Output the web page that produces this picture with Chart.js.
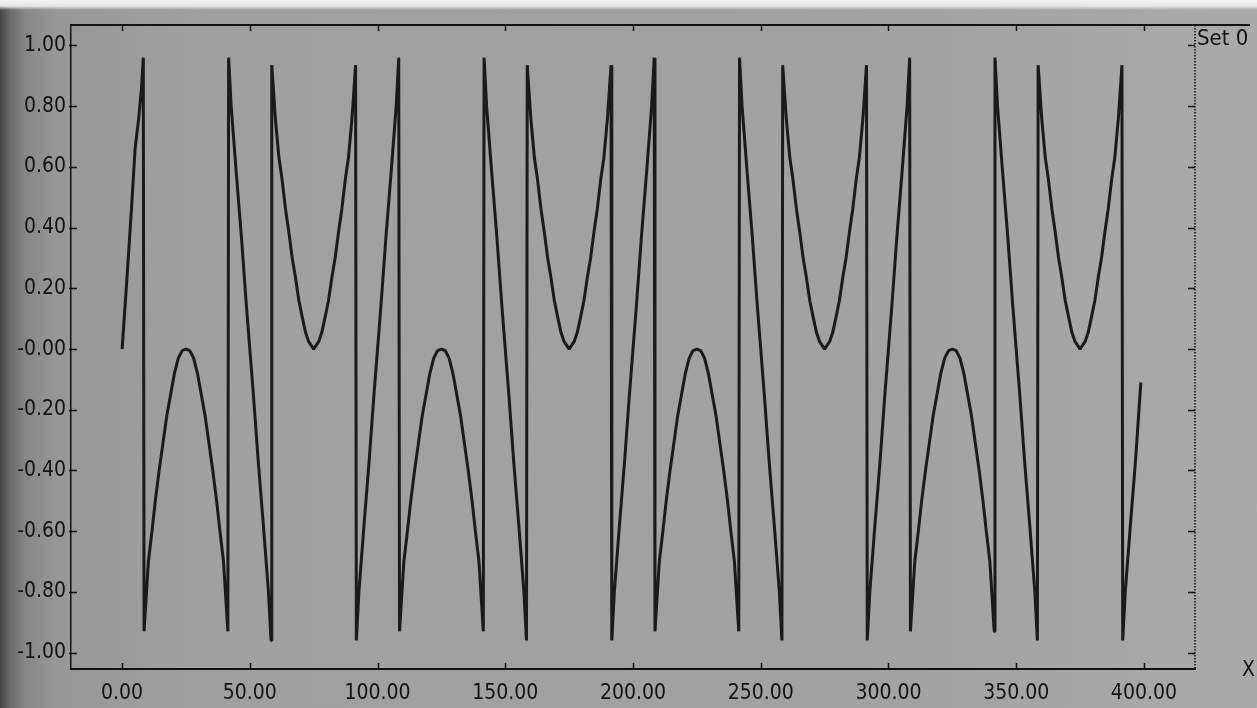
<!DOCTYPE html>
<html>
<head>
<meta charset="utf-8">
<script src="https://cdn.jsdelivr.net/npm/chart.js@4.4.1/dist/chart.umd.min.js"></script>
<style>
  html, body { margin: 0; padding: 0; background: #ffffff; }
  #wrap {
    position: absolute; left: 0; top: 0; width: 1257px; height: 708px;
    background:
      linear-gradient(to bottom, #f2f2f2 0px, #e6e6e6 6px, rgba(160,160,160,0) 10px),
      linear-gradient(to right, #444 0px, #6a6a6a 10px, #868686 25px, #979797 55px, #a0a0a0 200px, #a2a2a2 900px, #aaaaaa 1257px);
  }
  canvas { position: absolute; left: 0; top: 0; }
</style>
</head>
<body>
<div id="wrap"><canvas id="c" width="1257" height="708"></canvas></div>
<script>
// ---- Data (x, y pairs, grouped by stretch of the curve) ----
const xCycle1 = [0,1.4,2.5,3.8,5.1,6.5,7.6,8.3,
  8.6,10.3,11.7,13,14.5,16,17.5,19,20.5,22,23.5,25,26.5,28,29.5,31,32.5,34,35.5,37,38.3,39.7,41.4,
  41.7,42.7,44.7,46.7,48.6,50,51.4,53.3,55.3,57.3,58.3,
  58.6,60,61.4,62.6,64,65.2,66.6,67.8,69.2,70.4,71.8,73,75,77,78.2,79.6,80.8,82.2,83.4,84.8,86,87.4,88.6,90,91.4];
const yCycle1 = [0,0.17,0.31,0.48,0.66,0.76,0.86,0.96,
  -0.93,-0.70,-0.60,-0.50,-0.40,-0.31,-0.22,-0.15,-0.08,-0.03,-0.005,0,-0.005,-0.03,-0.08,-0.15,-0.22,-0.31,-0.40,-0.50,-0.60,-0.70,-0.93,
  0.96,0.80,0.58,0.37,0.15,0,-0.15,-0.37,-0.58,-0.80,-0.96,
  0.935,0.76,0.63,0.56,0.46,0.39,0.30,0.24,0.16,0.11,0.055,0.025,0,0.025,0.055,0.11,0.16,0.24,0.30,0.39,0.46,0.56,0.63,0.76,0.935];

const xCycle2 = [91.7,92.7,94.7,96.7,98.6,100,101.4,103.3,105.3,107.3,108.3,
  108.6,110.3,111.7,113,114.5,116,117.5,119,120.5,122,123.5,125,126.5,128,129.5,131,132.5,134,135.5,137,138.3,139.7,141.4,
  141.7,142.7,144.7,146.7,148.6,150,151.4,153.3,155.3,157.3,158.3,
  158.6,160,161.4,162.6,164,165.2,166.6,167.8,169.2,170.4,171.8,173,175,177,178.2,179.6,180.8,182.2,183.4,184.8,186,187.4,188.6,190,191.4];
const yCycle2 = [-0.96,-0.80,-0.58,-0.37,-0.15,0,0.15,0.37,0.58,0.80,0.96,
  -0.93,-0.70,-0.60,-0.50,-0.40,-0.31,-0.22,-0.15,-0.08,-0.03,-0.005,0,-0.005,-0.03,-0.08,-0.15,-0.22,-0.31,-0.40,-0.50,-0.60,-0.70,-0.93,
  0.96,0.80,0.58,0.37,0.15,0,-0.15,-0.37,-0.58,-0.80,-0.96,
  0.935,0.76,0.63,0.56,0.46,0.39,0.30,0.24,0.16,0.11,0.055,0.025,0,0.025,0.055,0.11,0.16,0.24,0.30,0.39,0.46,0.56,0.63,0.76,0.935];

const xCycle3 = [191.7,192.7,194.7,196.7,198.6,200,201.4,203.3,205.3,207.3,208.3,
  208.6,210.3,211.7,213,214.5,216,217.5,219,220.5,222,223.5,225,226.5,228,229.5,231,232.5,234,235.5,237,238.3,239.7,241.4,
  241.7,242.7,244.7,246.7,248.6,250,251.4,253.3,255.3,257.3,258.3,
  258.6,260,261.4,262.6,264,265.2,266.6,267.8,269.2,270.4,271.8,273,275,277,278.2,279.6,280.8,282.2,283.4,284.8,286,287.4,288.6,290,291.4];
const yCycle3 = [-0.96,-0.80,-0.58,-0.37,-0.15,0,0.15,0.37,0.58,0.80,0.96,
  -0.93,-0.70,-0.60,-0.50,-0.40,-0.31,-0.22,-0.15,-0.08,-0.03,-0.005,0,-0.005,-0.03,-0.08,-0.15,-0.22,-0.31,-0.40,-0.50,-0.60,-0.70,-0.93,
  0.96,0.80,0.58,0.37,0.15,0,-0.15,-0.37,-0.58,-0.80,-0.96,
  0.935,0.76,0.63,0.56,0.46,0.39,0.30,0.24,0.16,0.11,0.055,0.025,0,0.025,0.055,0.11,0.16,0.24,0.30,0.39,0.46,0.56,0.63,0.76,0.935];

const xCycle4 = [291.7,292.7,294.7,296.7,298.6,300,301.4,303.3,305.3,307.3,308.3,
  308.6,310.3,311.7,313,314.5,316,317.5,319,320.5,322,323.5,325,326.5,328,329.5,331,332.5,334,335.5,337,338.3,339.7,341.4,
  341.7,342.7,344.7,346.7,348.6,350,351.4,353.3,355.3,357.3,358.3,
  358.6,360,361.4,362.6,364,365.2,366.6,367.8,369.2,370.4,371.8,373,375,377,378.2,379.6,380.8,382.2,383.4,384.8,386,387.4,388.6,390,391.4];
const yCycle4 = [-0.96,-0.80,-0.58,-0.37,-0.15,0,0.15,0.37,0.58,0.80,0.96,
  -0.93,-0.70,-0.60,-0.50,-0.40,-0.31,-0.22,-0.15,-0.08,-0.03,-0.005,0,-0.005,-0.03,-0.08,-0.15,-0.22,-0.31,-0.40,-0.50,-0.60,-0.70,-0.93,
  0.96,0.80,0.58,0.37,0.15,0,-0.15,-0.37,-0.58,-0.80,-0.96,
  0.935,0.76,0.63,0.56,0.46,0.39,0.30,0.24,0.16,0.11,0.055,0.025,0,0.025,0.055,0.11,0.16,0.24,0.30,0.39,0.46,0.56,0.63,0.76,0.935];

const xTail = [391.7,392.7,394.7,396.7,398.8];
const yTail = [-0.96,-0.80,-0.58,-0.37,-0.11];

const seriesName = 'Set 0';
const xAxisName = 'X';
const xTickValues = [0,50,100,150,200,250,300,350,400];
const xTickLabels = ['0.00','50.00','100.00','150.00','200.00','250.00','300.00','350.00','400.00'];
const yTickValues = [-1,-0.8,-0.6,-0.4,-0.2,0,0.2,0.4,0.6,0.8,1];
const yTickLabels = ['-1.00','-0.80','-0.60','-0.40','-0.20','-0.00','0.20','0.40','0.60','0.80','1.00'];

// ---- build points ----
const allX = [].concat(xCycle1, xCycle2, xCycle3, xCycle4, xTail);
const allY = [].concat(yCycle1, yCycle2, yCycle3, yCycle4, yTail);
const points = allX.map((x, i) => ({ x: x, y: allY[i] }));

const FONT = '"Liberation Sans Narrow", "Arial Narrow", "DejaVu Sans Condensed", sans-serif';
const INK = '#121212';

const framePlugin = {
  id: 'frame',
  afterDraw(chart) {
    const { ctx, chartArea: a, scales } = chart;
    const sx = scales.x, sy = scales.y;
    ctx.save();
    ctx.strokeStyle = INK;
    // top border line (extends to the right)
    ctx.lineWidth = 2;
    ctx.beginPath(); ctx.moveTo(a.left - 1, a.top); ctx.lineTo(1250, a.top); ctx.stroke();
    // right dotted axis
    ctx.lineWidth = 1.5;
    ctx.setLineDash([1.5, 1.5]);
    ctx.beginPath(); ctx.moveTo(a.right, a.top); ctx.lineTo(a.right, a.bottom); ctx.stroke();
    ctx.setLineDash([]);
    // inward tick marks
    ctx.lineWidth = 1.5;
    ctx.beginPath();
    yTickValues.forEach(v => {
      const py = Math.round(sy.getPixelForValue(v)) + 0.5;
      ctx.moveTo(a.left - 2, py); ctx.lineTo(a.left + 6, py);
      ctx.moveTo(a.right - 7, py); ctx.lineTo(a.right, py);
    });
    xTickValues.forEach(v => {
      const px = Math.round(sx.getPixelForValue(v)) + 0.5;
      ctx.moveTo(px, a.bottom); ctx.lineTo(px, a.bottom - 6);
      ctx.moveTo(px, a.top); ctx.lineTo(px, a.top + 6);
    });
    ctx.stroke();
    // legend / axis name text
    ctx.fillStyle = INK;
    ctx.textAlign = 'left';
    ctx.textBaseline = 'alphabetic';
    ctx.font = '22px ' + FONT;
    ctx.fillText(seriesName, a.right + 2, 45);
    ctx.font = '21px ' + FONT;
    ctx.fillText(xAxisName, 1242, 676);
    ctx.restore();
  }
};

new Chart(document.getElementById('c'), {
  type: 'line',
  data: {
    datasets: [{
      label: seriesName,
      data: points,
      borderColor: '#1a1a1a',
      borderWidth: 3,
      borderJoinStyle: 'bevel',
      pointRadius: 0,
      tension: 0,
      fill: false
    }]
  },
  options: {
    responsive: false,
    animation: false,
    devicePixelRatio: 1,
    layout: { padding: { top: 25, right: 62, left: 0, bottom: 0 } },
    plugins: { legend: { display: false }, tooltip: { enabled: false } },
    scales: {
      x: {
        type: 'linear',
        min: -20, max: 420,
        afterFit: s => { s.height = 39; },
        afterBuildTicks: s => { s.ticks = xTickValues.map(v => ({ value: v })); },
        grid: { display: false, drawTicks: false },
        border: { display: true, color: INK, width: 2 },
        ticks: {
          padding: 12,
          color: INK,
          font: { family: FONT, size: 21 },
          maxRotation: 0,
          autoSkip: false,
          callback: (v) => xTickLabels[xTickValues.indexOf(v)]
        }
      },
      y: {
        type: 'linear',
        min: -1.054, max: 1.0675,
        afterFit: s => { s.width = 71; },
        afterBuildTicks: s => { s.ticks = yTickValues.map(v => ({ value: v })); },
        grid: { display: false, drawTicks: false },
        border: { display: true, color: INK, width: 1.5, dash: [1.5, 1.5] },
        ticks: {
          padding: 5,
          color: INK,
          font: { family: FONT, size: 21 },
          autoSkip: false,
          callback: (v) => {
            const i = yTickValues.findIndex(t => Math.abs(t - v) < 1e-9);
            return i >= 0 ? yTickLabels[i] : '';
          }
        }
      }
    }
  },
  plugins: [framePlugin]
});
</script>
</body>
</html>
